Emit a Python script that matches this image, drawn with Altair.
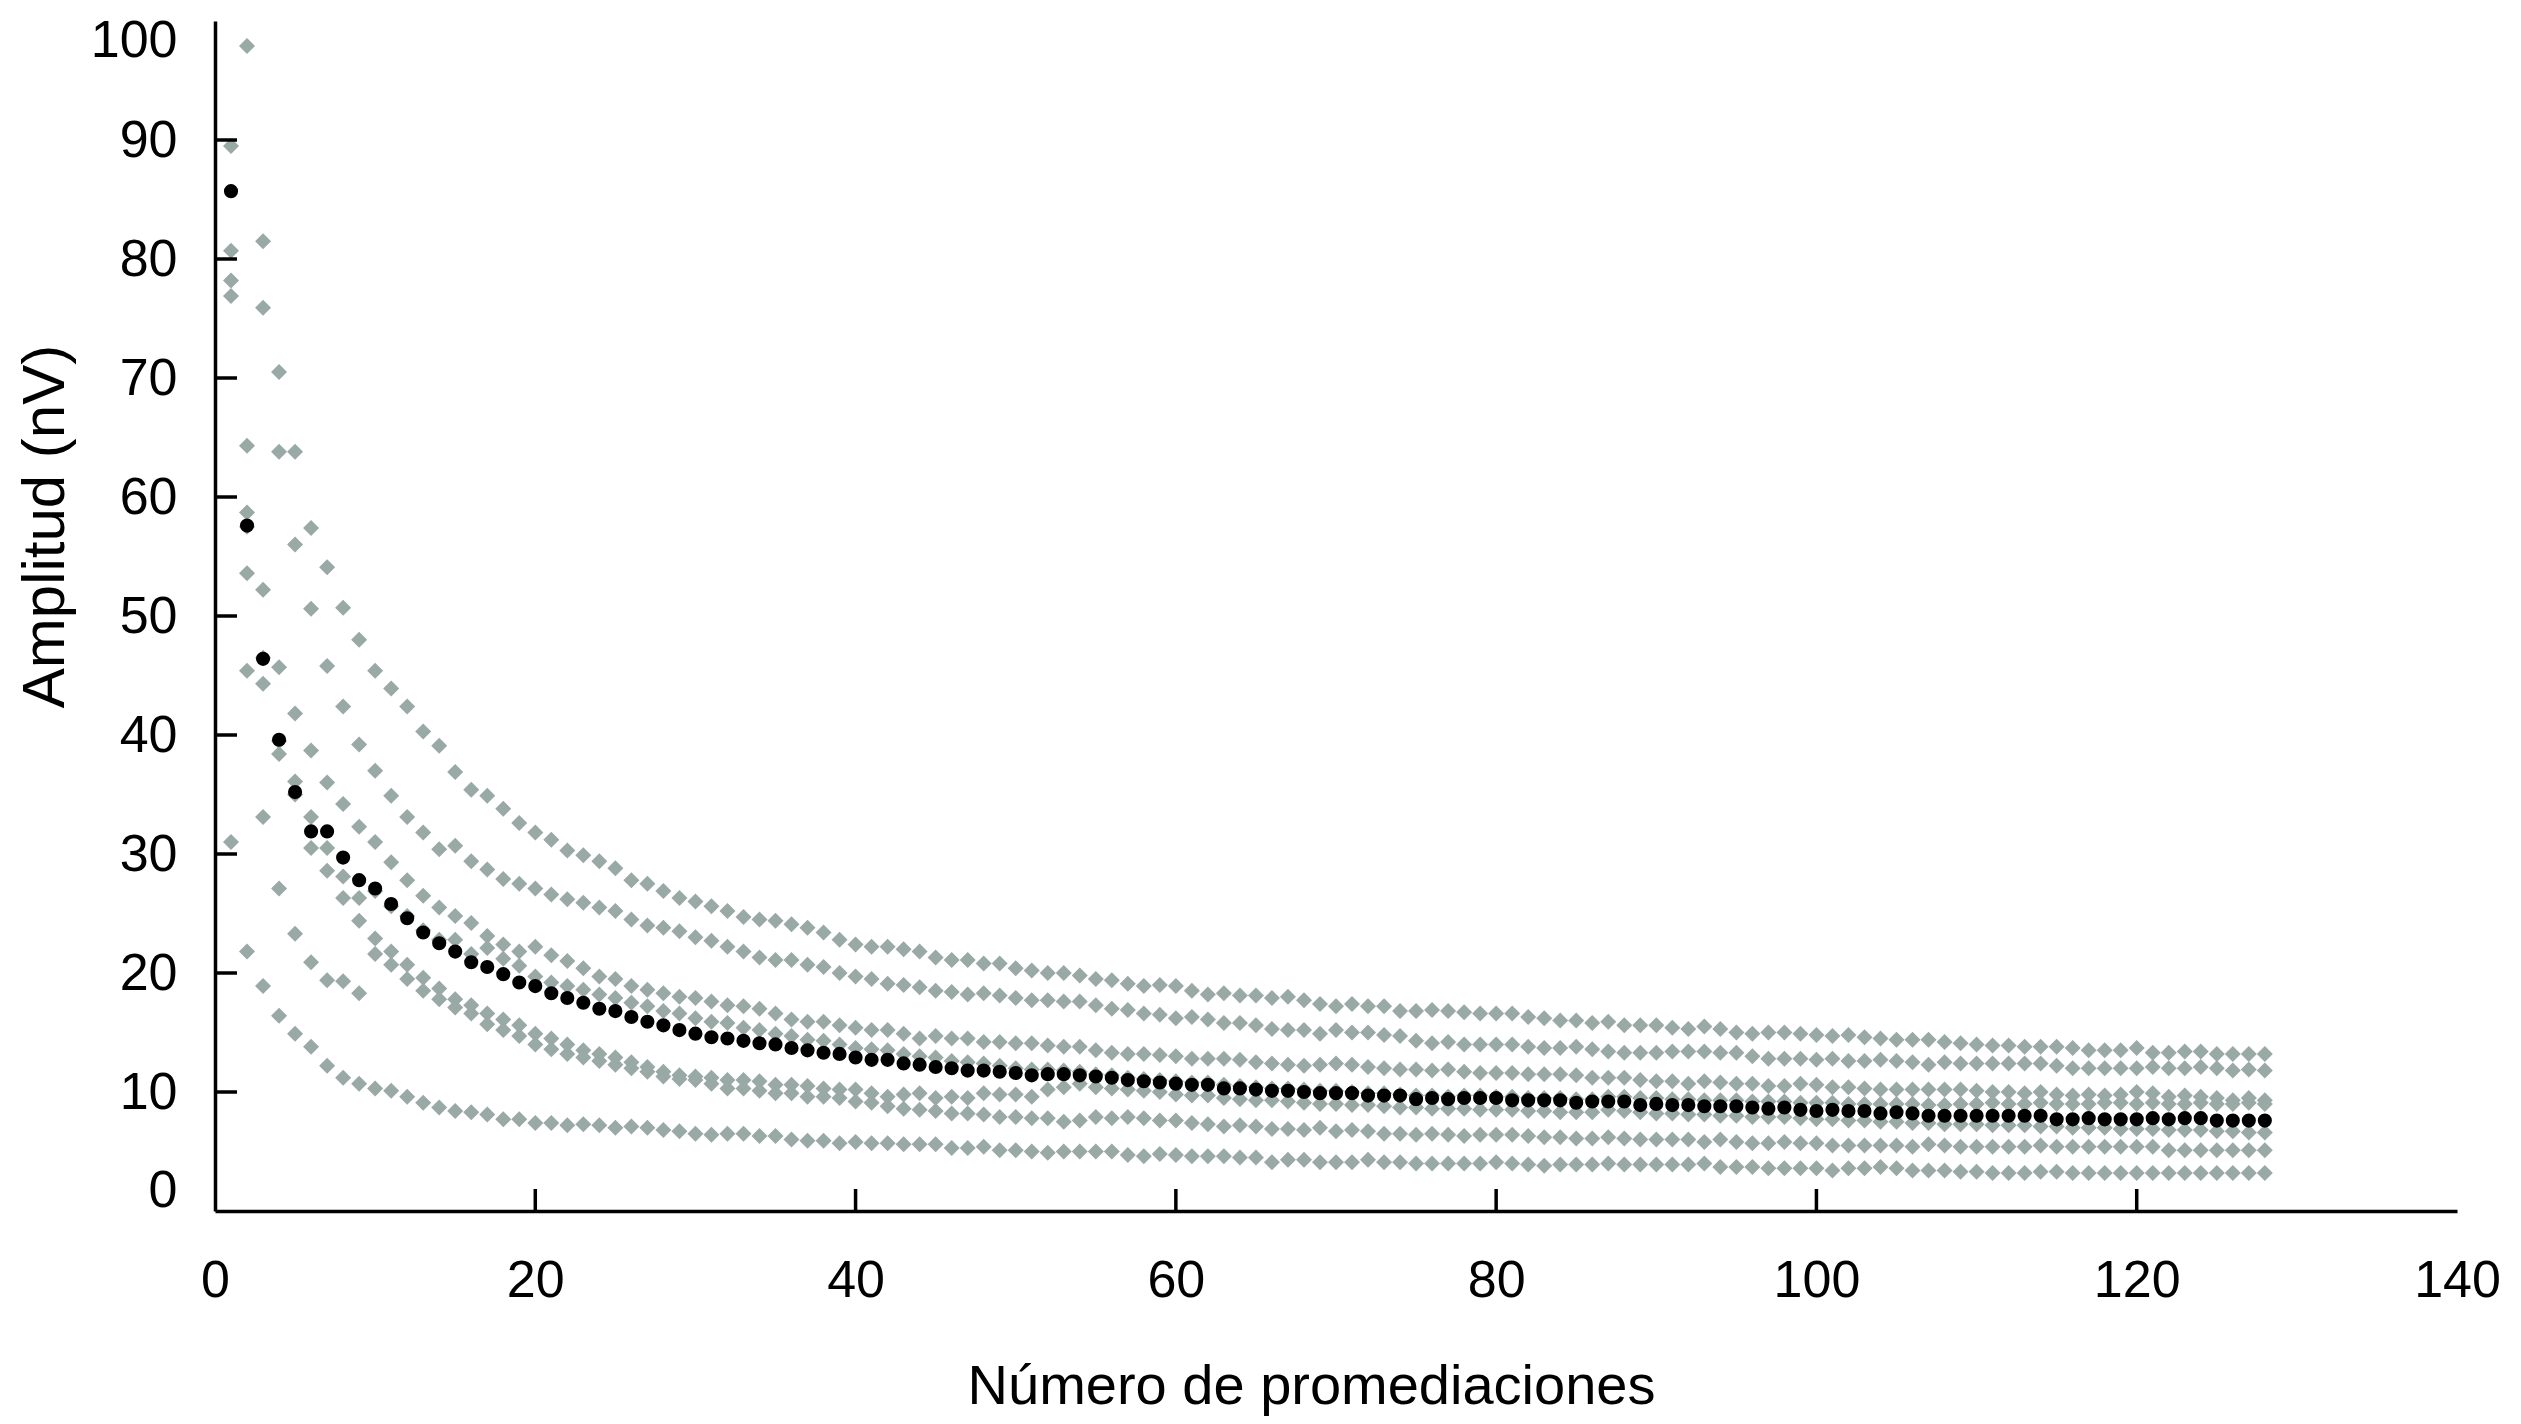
import altair as alt
import pandas as pd

# ---------------- data ----------------
n_prom = list(range(1, 129))

serie_1 = [None,
    97.9, 81.5, 70.5, 63.8, 57.4, 54.1, 50.7, 48.0, 45.4, 43.9, 42.4, 40.3, 39.1, 36.9, 35.4, 34.9, 33.8, 32.6, 31.8, 31.2, 30.3, 29.9,
    29.4, 28.8, 27.8, 27.5, 26.9, 26.3, 26.0, 25.6, 25.2, 24.7, 24.5, 24.4, 24.1, 23.8, 23.4, 22.8, 22.4, 22.2, 22.2, 22.0, 21.8, 21.3, 21.1, 21.1, 20.8, 20.8, 20.4, 20.2, 20.0, 20.0, 19.8,
    19.5, 19.4, 19.1, 18.9, 19.0, 18.9, 18.5, 18.2, 18.3, 18.1, 18.1, 17.9, 18.0, 17.7, 17.4, 17.2, 17.4, 17.2, 17.2, 16.8, 16.8, 16.9, 16.8, 16.7, 16.6, 16.6, 16.6, 16.3, 16.2, 16.0, 16.0, 15.8,
    15.9, 15.6, 15.6, 15.6, 15.4, 15.3, 15.5, 15.3, 15.0, 14.9, 15.0, 15.0, 14.9, 14.8, 14.7, 14.8, 14.6, 14.5, 14.4, 14.4, 14.4, 14.2,
    14.1, 14.0, 13.9, 13.9, 13.8, 13.8, 13.8, 13.7, 13.5, 13.5, 13.5, 13.7, 13.3, 13.3, 13.4, 13.4, 13.2, 13.2, 13.2, 13.2]

serie_2 = [89.5,
    64.3, 75.9, 63.8, 56.0, 50.6, 45.8, 42.4, 39.2, 37.0, 34.9, 33.1, 31.8, 30.4, 30.7, 29.4, 28.7, 27.9, 27.5, 27.1, 26.6, 26.2, 25.9,
    25.5, 25.2, 24.5, 24.0, 23.8, 23.5, 23.0, 22.7, 22.2, 21.8, 21.3, 21.1, 21.1, 20.7, 20.5, 20.0, 19.7, 19.5, 19.1, 19.0, 18.8, 18.5, 18.4, 18.2, 18.3, 18.1, 17.9, 17.7, 17.7, 17.6, 17.6,
    17.3, 17.0, 16.9, 16.6, 16.5, 16.2, 16.3, 16.1, 15.8, 15.8, 15.6, 15.3, 15.2, 15.2, 14.9, 15.2, 15.0, 15.0, 14.8, 14.7, 14.3, 14.1, 14.2, 14.0, 14.0, 14.0, 14.0, 13.8, 13.7, 13.7, 13.8, 13.6,
    13.4, 13.3, 13.3, 13.3, 13.4, 13.4, 13.4, 13.3, 13.3, 13.0, 12.8, 12.8, 12.8, 12.7, 12.8, 12.6, 12.6, 12.7, 12.6, 12.5, 12.3, 12.5,
    12.4, 12.4, 12.4, 12.4, 12.4, 12.4, 12.2, 12.0, 12.0, 12.0, 12.0, 12.0, 12.1, 12.0, 12.0, 12.1, 12.0, 11.8, 11.9, 11.8]

serie_3 = [80.7,
    58.7, 52.2, 45.7, 41.8, 38.7, 36.0, 34.2, 32.3, 31.0, 29.3, 27.8, 26.5, 25.5, 24.8, 24.2, 23.1, 22.4, 21.8, 22.2, 21.5, 21.0, 20.4,
    19.7, 19.5, 18.9, 18.6, 18.3, 18.0, 17.9, 17.6, 17.3, 17.2, 17.0, 16.6, 16.1, 15.9, 15.9, 15.6, 15.4, 15.2, 15.2, 14.9, 14.5, 14.7, 14.5, 14.5, 14.2, 14.2, 14.1, 14.1, 13.9, 13.8, 13.8,
    13.5, 13.3, 13.2, 13.2, 13.1, 13.0, 12.8, 12.8, 12.8, 12.7, 12.5, 12.4, 12.3, 12.2, 12.3, 12.4, 12.3, 12.1, 12.0, 11.9, 11.9, 11.8, 11.9, 11.7, 11.6, 11.6, 11.6, 11.5, 11.5, 11.5, 11.4, 11.2,
    11.2, 11.2, 11.0, 10.9, 10.9, 10.7, 10.9, 10.8, 10.7, 10.7, 10.5, 10.5, 10.7, 10.6, 10.4, 10.4, 10.3, 10.2, 10.2, 10.2, 10.2, 10.2,
    10.2, 10.1, 10.0, 10.0, 9.9, 10.0, 9.8, 9.7, 9.8, 9.7, 9.8, 10.0, 9.9, 9.6, 9.7, 9.6, 9.5, 9.3, 9.5, 9.3]

serie_4 = [78.2,
    57.5, 46.5, 39.5, 36.1, 33.1, 30.5, 28.1, 26.3, 26.9, 25.6, 24.8, 23.6, 22.8, 22.8, 21.6, 22.1, 21.2, 20.6, 19.7, 19.2, 18.9, 18.6,
    18.2, 17.9, 17.5, 17.2, 16.8, 16.6, 16.2, 15.9, 15.8, 15.4, 15.2, 14.9, 14.7, 14.4, 14.3, 14.0, 13.7, 13.6, 13.5, 13.2, 13.0, 12.9, 12.6, 12.5, 12.4, 12.2, 12.0, 11.9, 11.9, 11.8, 11.7,
    11.5, 11.4, 11.2, 11.1, 11.0, 10.9, 10.8, 10.8, 10.6, 10.5, 10.4, 10.3, 10.3, 10.2, 10.1, 10.1, 10.0, 9.9, 9.9, 9.8, 9.7, 9.7, 9.6, 9.7, 9.7, 9.6, 9.6, 9.5, 9.5, 9.5, 9.4, 9.4,
    9.6, 9.6, 9.5, 9.5, 9.4, 9.4, 9.3, 9.3, 9.3, 9.2, 9.2, 9.2, 9.1, 9.1, 9.1, 9.0, 9.0, 9.0, 9.0, 9.0, 8.9, 8.9,
    9.0, 9.0, 9.1, 9.0, 9.0, 9.1, 9.0, 9.0, 9.0, 9.1, 9.1, 9.0, 9.1, 9.0, 9.0, 9.1, 9.0, 9.0, 9.1, 9.0]

serie_5 = [76.9,
    53.6, 44.3, 38.4, 35.0, 30.5, 28.6, 26.3, 24.4, 22.9, 21.8, 20.7, 19.6, 18.7, 17.8, 17.3, 16.6, 16.1, 15.6, 14.9, 14.5, 14.0, 13.5,
    13.2, 12.9, 12.5, 12.1, 11.7, 11.4, 11.3, 11.2, 11.0, 11.0, 10.9, 10.6, 10.6, 10.5, 10.3, 10.2, 10.2, 9.9, 9.6, 9.8, 9.9, 9.5, 9.6, 9.5, 9.9, 9.8, 9.8, 9.6, 10.2, 10.4, 10.7,
    10.4, 10.3, 10.2, 10.1, 10.0, 9.8, 9.7, 9.7, 9.5, 9.4, 9.3, 9.3, 9.2, 9.1, 9.0, 9.0, 8.9, 8.9, 8.8, 8.7, 8.7, 8.6, 8.6, 8.6, 8.5, 8.5, 8.5, 8.4, 8.4, 8.3, 8.3, 8.3,
    8.5, 8.4, 8.3, 8.2, 8.2, 8.1, 8.1, 8.0, 8.0, 7.9, 7.9, 7.9, 7.8, 7.7, 7.7, 7.6, 7.6, 7.5, 7.5, 7.4, 7.4, 7.3,
    7.3, 7.3, 7.2, 7.2, 7.2, 7.1, 7.1, 7.0, 7.0, 7.0, 6.9, 6.9, 6.9, 6.8, 6.8, 6.8, 6.7, 6.7, 6.6, 6.6]

serie_6 = [None,
    45.4, 33.1, 27.1, 23.3, 20.9, 19.4, 19.3, 18.3, 21.6, 20.7, 19.5, 18.5, 17.8, 17.1, 16.6, 15.7, 15.2, 14.7, 14.0, 13.6, 13.2, 12.9,
    12.6, 12.3, 12.0, 11.7, 11.3, 11.1, 11.0, 10.7, 10.3, 10.3, 10.1, 9.9, 9.9, 9.6, 9.6, 9.5, 9.2, 9.1, 8.8, 8.6, 8.5, 8.4, 8.2, 8.2, 8.1, 7.9, 7.9, 7.8, 7.8, 7.5, 7.6,
    7.9, 7.8, 7.9, 7.8, 7.6, 7.6, 7.4, 7.3, 7.1, 7.2, 7.1, 6.9, 6.9, 6.8, 7.0, 6.7, 6.8, 6.7, 6.5, 6.5, 6.4, 6.5, 6.4, 6.3, 6.4, 6.4, 6.4, 6.3, 6.2, 6.2, 6.1, 6.1,
    6.2, 6.1, 6.0, 6.0, 6.0, 6.0, 5.8, 6.0, 5.8, 5.7, 5.7, 5.8, 5.7, 5.7, 5.5, 5.5, 5.5, 5.5, 5.5, 5.4, 5.6, 5.5,
    5.4, 5.4, 5.4, 5.4, 5.4, 5.5, 5.4, 5.4, 5.4, 5.4, 5.4, 5.4, 5.4, 5.1, 5.1, 5.1, 5.1, 5.1, 5.1, 5.1]

serie_7 = [31.0,
    21.8, 18.9, 16.4, 14.9, 13.8, 12.2, 11.2, 10.7, 10.3, 10.1, 9.6, 9.1, 8.7, 8.4, 8.3, 8.1, 7.7, 7.7, 7.4, 7.4, 7.2, 7.3,
    7.2, 7.0, 7.1, 7.0, 6.8, 6.7, 6.5, 6.4, 6.5, 6.5, 6.3, 6.3, 6.0, 5.9, 5.9, 5.7, 5.8, 5.7, 5.7, 5.6, 5.6, 5.6, 5.3, 5.3, 5.4, 5.1, 5.1, 5.0, 4.9, 5.0, 5.0,
    5.0, 5.0, 4.7, 4.6, 4.8, 4.7, 4.6, 4.6, 4.6, 4.5, 4.5, 4.1, 4.3, 4.3, 4.1, 4.1, 4.1, 4.3, 4.1, 4.1, 4.0, 4.0, 4.0, 4.0, 4.0, 4.1, 4.0, 3.9, 3.8, 3.9, 3.9, 3.9,
    4.0, 3.9, 3.9, 3.9, 3.9, 3.9, 4.0, 3.7, 3.7, 3.7, 3.6, 3.6, 3.6, 3.6, 3.4, 3.6, 3.6, 3.7, 3.6, 3.4, 3.4, 3.4,
    3.3, 3.3, 3.2, 3.2, 3.2, 3.3, 3.3, 3.2, 3.2, 3.2, 3.2, 3.2, 3.2, 3.2, 3.2, 3.2, 3.2, 3.2, 3.2, 3.2]

media = [85.7, 57.6, 46.4, 39.6, 35.2, 31.9, 31.9, 29.7, 27.8, 27.1, 25.8, 24.6, 23.4, 22.5, 21.8, 20.9, 20.5, 19.9, 19.2, 18.9, 18.3, 17.9, 17.5,
    17.0, 16.8, 16.3, 15.9, 15.6, 15.2, 14.9, 14.6, 14.5, 14.3, 14.1, 14.0, 13.7, 13.5, 13.3, 13.2, 12.9, 12.7, 12.7, 12.4, 12.3, 12.1, 12.0, 11.8, 11.8, 11.7, 11.6, 11.4, 11.5, 11.5, 11.4,
    11.3, 11.2, 11.0, 10.9, 10.8, 10.7, 10.6, 10.6, 10.3, 10.3, 10.2, 10.1, 10.1, 10.0, 9.9, 9.9, 9.9, 9.7, 9.7, 9.7, 9.4, 9.5, 9.4, 9.5, 9.5, 9.5, 9.3, 9.3, 9.3, 9.3, 9.1, 9.2,
    9.2, 9.2, 8.9, 9.0, 8.9, 8.9, 8.8, 8.8, 8.8, 8.7, 8.6, 8.7, 8.5, 8.4, 8.5, 8.4, 8.4, 8.2, 8.3, 8.2, 8.0, 8.0,
    8.0, 8.0, 8.0, 8.0, 8.0, 8.0, 7.7, 7.7, 7.8, 7.7, 7.7, 7.7, 7.8, 7.7, 7.8, 7.8, 7.6, 7.6, 7.6, 7.6]

y_labels = [0, 10, 20, 30, 40, 50, 60, 70, 80, 90, 100]
x_labels = [0, 20, 40, 60, 80, 100, 120, 140]
y_ticks = [10, 20, 30, 40, 50, 60, 70, 80, 90]
x_ticks = [20, 40, 60, 80, 100, 120]

series = {"s1": serie_1, "s2": serie_2, "s3": serie_3, "s4": serie_4,
          "s5": serie_5, "s6": serie_6, "s7": serie_7}
for k, v in series.items():
    assert len(v) == 128, (k, len(v))
assert len(media) == 128, len(media)

rows = []
for name, vals in series.items():
    for n, a in zip(n_prom, vals):
        if a is not None:
            rows.append({"n": n, "amp": a, "serie": name})
gray_df = pd.DataFrame(rows)
mean_df = pd.DataFrame({"n": n_prom, "amp": media})
ytick_df = pd.DataFrame({"amp": y_ticks})
xtick_df = pd.DataFrame({"n": x_ticks})

# ---------------- styling ----------------
W, H = 2242, 1190
FONT = "Liberation Sans"
GRAY = "#98a9a6"

x_scale = alt.Scale(domain=[0, 140], nice=False, zero=False)
y_scale = alt.Scale(domain=[0, 100], nice=False, zero=False)

x_axis = alt.Axis(values=x_labels, ticks=False, tickSize=0, grid=False,
                  domainColor="black", domainWidth=3.5,
                  labelFont=FONT, labelFontSize=52, labelColor="black",
                  labelPadding=44, labelFlush=False,
                  title="Número de promediaciones", titleFont=FONT,
                  titleFontSize=56, titleFontWeight="normal", titleColor="black",
                  titleX=1096, titleY=192, titleAlign="center",
                  titleBaseline="alphabetic")
y_axis = alt.Axis(values=y_labels, ticks=False, tickSize=0, grid=False,
                  domainColor="black", domainWidth=3.5,
                  labelFont=FONT, labelFontSize=52, labelColor="black",
                  labelPadding=38, labelFlush=True, labelFlushOffset=6,
                  title="Amplitud (nV)", titleFont=FONT,
                  titleFontSize=60, titleFontWeight="normal", titleColor="black",
                  titleX=-152, titleY=505, titleAngle=270, titleAlign="center",
                  titleBaseline="alphabetic")

x_enc = alt.X("n:Q", scale=x_scale, axis=x_axis)
y_enc = alt.Y("amp:Q", scale=y_scale, axis=y_axis)

gray = alt.Chart(gray_df).mark_point(
    shape="diamond", filled=True, size=256, color=GRAY, opacity=1, strokeWidth=0
).encode(x=x_enc, y=y_enc, detail="serie:N")

black = alt.Chart(mean_df).mark_point(
    shape="circle", filled=True, size=200, color="black", opacity=1, strokeWidth=0
).encode(x=x_enc, y=y_enc)

yticks = alt.Chart(ytick_df).mark_rule(color="black", strokeWidth=3.5).encode(
    y=y_enc, x=alt.value(0), x2=alt.value(22))

xticks = alt.Chart(xtick_df).mark_rule(color="black", strokeWidth=3.5).encode(
    x=x_enc, y=alt.value(H), y2=alt.value(H - 22))

chart = alt.layer(gray, black, yticks, xticks).properties(
    width=W, height=H,
    autosize=alt.AutoSizeParams(type="none"),
    padding={"left": 207, "top": 13, "right": 50, "bottom": 205},
    background="white",
).configure_view(stroke=None)

chart.save("out.html", embed_options={"renderer": "svg", "actions": False})
